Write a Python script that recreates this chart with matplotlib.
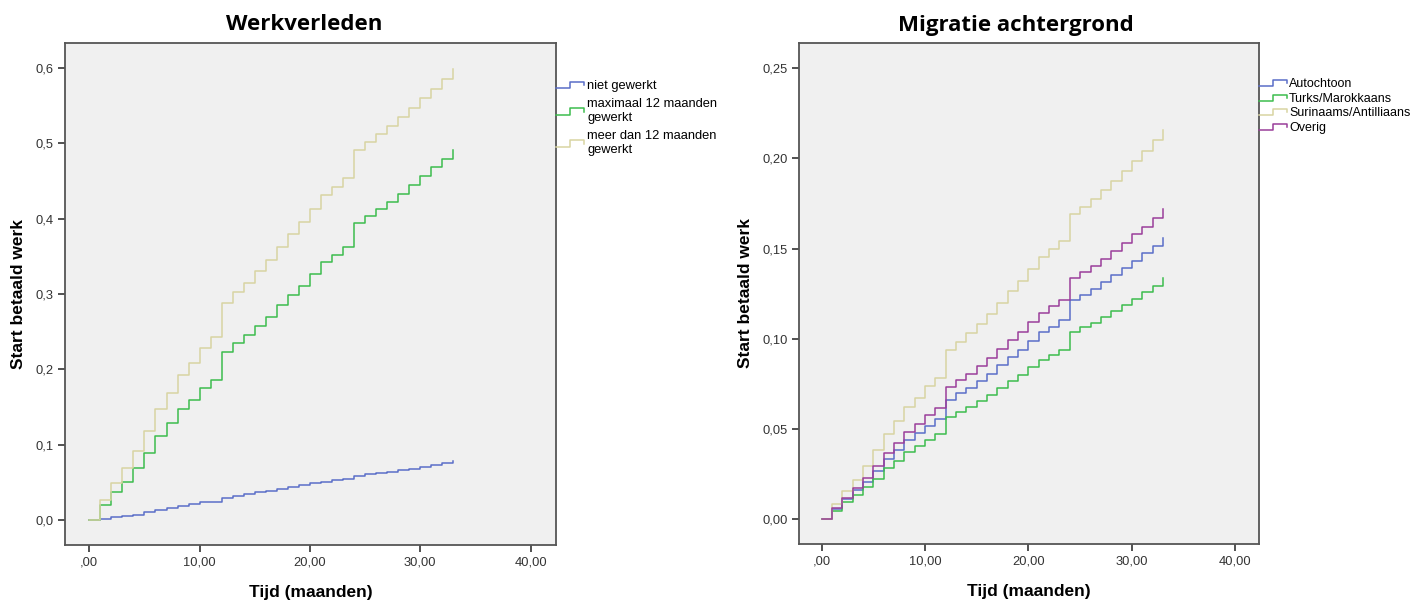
import numpy as np
import matplotlib
matplotlib.use("Agg")
import matplotlib.pyplot as plt
from matplotlib.legend_handler import HandlerBase
from matplotlib.lines import Line2D
from matplotlib.ticker import FuncFormatter

# months 0..33, value holds on [k, k+1), last value is the jump at month 33
months = np.arange(0, 34)

# Werkverleden
niet_gewerkt = [0.0, 0.0018, 0.0035, 0.0053, 0.0071, 0.0106, 0.0128, 0.0159, 0.0186, 0.0212,
                0.0234, 0.0247, 0.0300, 0.0323, 0.0345, 0.0367, 0.0389, 0.0411, 0.0433, 0.0460,
                0.0486, 0.0504, 0.0526, 0.0544, 0.0592, 0.0610, 0.0627, 0.0645, 0.0663, 0.0681,
                0.0707, 0.0729, 0.0756, 0.0778]
max_12 = [0.0, 0.020, 0.037, 0.051, 0.069, 0.089, 0.112, 0.129, 0.147, 0.160,
          0.175, 0.186, 0.223, 0.235, 0.245, 0.258, 0.270, 0.285, 0.299, 0.311,
          0.327, 0.342, 0.352, 0.362, 0.394, 0.403, 0.413, 0.422, 0.433, 0.445,
          0.456, 0.468, 0.479, 0.491]
meer_12 = [0.0, 0.0265, 0.049, 0.069, 0.092, 0.118, 0.148, 0.169, 0.193, 0.209,
           0.228, 0.243, 0.288, 0.302, 0.315, 0.331, 0.345, 0.363, 0.380, 0.395,
           0.413, 0.431, 0.442, 0.454, 0.491, 0.501, 0.512, 0.523, 0.535, 0.547,
           0.560, 0.572, 0.585, 0.598]

# Migratie achtergrond
autochtoon = [0.0, 0.0055, 0.0111, 0.0163, 0.0209, 0.0268, 0.0336, 0.0384, 0.0440, 0.0479,
              0.0519, 0.0556, 0.0663, 0.0698, 0.0730, 0.0769, 0.0807, 0.0856, 0.0900, 0.0941,
              0.0990, 0.1037, 0.1068, 0.1105, 0.1216, 0.1244, 0.1279, 0.1314, 0.1353, 0.1391,
              0.1434, 0.1476, 0.1517, 0.1561]
turks_mar = [0.0, 0.0048, 0.0096, 0.0133, 0.0177, 0.0225, 0.0283, 0.0325, 0.0371, 0.0407,
             0.0442, 0.0471, 0.0565, 0.0595, 0.0623, 0.0656, 0.0689, 0.0726, 0.0767, 0.0800,
             0.0843, 0.0883, 0.0909, 0.0939, 0.1037, 0.1064, 0.1088, 0.1122, 0.1153, 0.1186,
             0.1221, 0.1260, 0.1295, 0.1336]
sur_ant = [0.0, 0.0085, 0.0159, 0.0220, 0.0296, 0.0382, 0.0475, 0.0547, 0.0623, 0.0674,
           0.0737, 0.0783, 0.0939, 0.0985, 0.1031, 0.1085, 0.1136, 0.1201, 0.1264, 0.1319,
           0.1386, 0.1452, 0.1497, 0.1543, 0.1693, 0.1733, 0.1778, 0.1826, 0.1877, 0.1931,
           0.1988, 0.2044, 0.2101, 0.2158]
overig = [0.0, 0.0061, 0.0120, 0.0172, 0.0231, 0.0296, 0.0370, 0.0423, 0.0486, 0.0528,
          0.0576, 0.0615, 0.0734, 0.0774, 0.0807, 0.0852, 0.0892, 0.0944, 0.0994, 0.1037,
          0.1092, 0.1146, 0.1181, 0.1218, 0.1338, 0.1371, 0.1406, 0.1445, 0.1487, 0.1534,
          0.1580, 0.1622, 0.1669, 0.1718]

BLUE = '#5a6ec8'
GREEN = '#3dbd4e'
YELLOW = '#d8d4a2'
PURPLE = '#9a3e9a'
BG = '#f0f0f0'
FONT = 'Liberation Sans'


class StepHandler(HandlerBase):
    # legend key drawn as a small step, like SPSS does
    def create_artists(self, legend, orig_handle, xdescent, ydescent, width, height, fontsize, trans):
        x0, x1 = -xdescent, -xdescent + width
        xm = x0 + width * 0.5
        ylo = -ydescent + height * 0.1
        yhi = -ydescent + height * 0.8
        line = Line2D([x0, xm, xm, x1, x1], [ylo, ylo, yhi, yhi, ylo + height * 0.35],
                      color=orig_handle.get_color(), lw=1.1, transform=trans)
        return [line]


def fmt_x(v, pos):
    s = f"{v:.2f}".replace('.', ',')
    return s[1:] if s.startswith('0,') else s


def style_axes(ax, title, title_x):
    ax.set_facecolor(BG)
    for sp in ax.spines.values():
        sp.set_color('#555555')
        sp.set_linewidth(1.3)
    ax.set_title(title, fontsize=16, fontweight='bold', family='Open Sans', pad=9, x=title_x)
    ax.set_xlabel('Tijd (maanden)', fontsize=12.5, fontweight='bold', family=FONT, labelpad=12)
    ax.set_ylabel('Start betaald werk', fontsize=12.5, fontweight='bold', family=FONT, labelpad=7)
    ax.set_xlim(-2.2, 42.3)
    ax.set_xticks([0, 10, 20, 30, 40])
    ax.xaxis.set_major_formatter(FuncFormatter(fmt_x))
    ax.tick_params(length=5, width=1.2, color='#333333', labelsize=9.3, labelcolor='#333333', pad=3)


def set_tick_font(ax):
    for lab in ax.get_xticklabels() + ax.get_yticklabels():
        lab.set_family(FONT)


fig = plt.figure(figsize=(14.23, 6.0), dpi=100)
ax1 = fig.add_axes([65 / 1423, 1 - 545 / 600, 491 / 1423, 502 / 600])
ax2 = fig.add_axes([799 / 1423, 1 - 544 / 600, 460 / 1423, 501 / 600])

# left chart
l1, = ax1.step(months, niet_gewerkt, where='post', color=BLUE, lw=1.1)
l2, = ax1.step(months, max_12, where='post', color=GREEN, lw=1.1)
l3, = ax1.step(months, meer_12, where='post', color=YELLOW, lw=1.1)
style_axes(ax1, 'Werkverleden', 0.487)
ax1.set_ylim(-0.033, 0.633)
ax1.set_yticks([0, 0.1, 0.2, 0.3, 0.4, 0.5, 0.6])
ax1.yaxis.set_major_formatter(FuncFormatter(lambda v, p: f"{v:.1f}".replace('.', ',')))
set_tick_font(ax1)
leg1 = ax1.legend([l1, l2, l3], ['niet gewerkt', 'maximaal 12 maanden\ngewerkt', 'meer dan 12 maanden\ngewerkt'],
                  handler_map={Line2D: StepHandler()}, loc='upper left', bbox_to_anchor=(1.0, 0.926),
                  frameon=False, handlelength=2.2, handletextpad=0.2, borderaxespad=0,
                  borderpad=0, labelspacing=0.45, prop={'family': FONT, 'size': 9.3})
for t in leg1.get_texts():
    t.set_linespacing(1.25)

# right chart
m1, = ax2.step(months, autochtoon, where='post', color=BLUE, lw=1.1)
m2, = ax2.step(months, turks_mar, where='post', color=GREEN, lw=1.1)
m3, = ax2.step(months, sur_ant, where='post', color=YELLOW, lw=1.1)
m4, = ax2.step(months, overig, where='post', color=PURPLE, lw=1.1)
style_axes(ax2, 'Migratie achtergrond', 0.472)
ax2.set_ylim(-0.0137, 0.264)
ax2.set_yticks([0, 0.05, 0.10, 0.15, 0.20, 0.25])
ax2.yaxis.set_major_formatter(FuncFormatter(lambda v, p: f"{v:.2f}".replace('.', ',')))
set_tick_font(ax2)
ax2.legend([m1, m2, m3, m4], ['Autochtoon', 'Turks/Marokkaans', 'Surinaams/Antilliaans', 'Overig'],
           handler_map={Line2D: StepHandler()}, loc='upper left', bbox_to_anchor=(1.0, 0.93),
           frameon=False, handlelength=2.2, handletextpad=0.2, borderaxespad=0,
           borderpad=0, labelspacing=0.2, prop={'family': FONT, 'size': 9.0})

fig.savefig('out.png', dpi=100, facecolor='white')
